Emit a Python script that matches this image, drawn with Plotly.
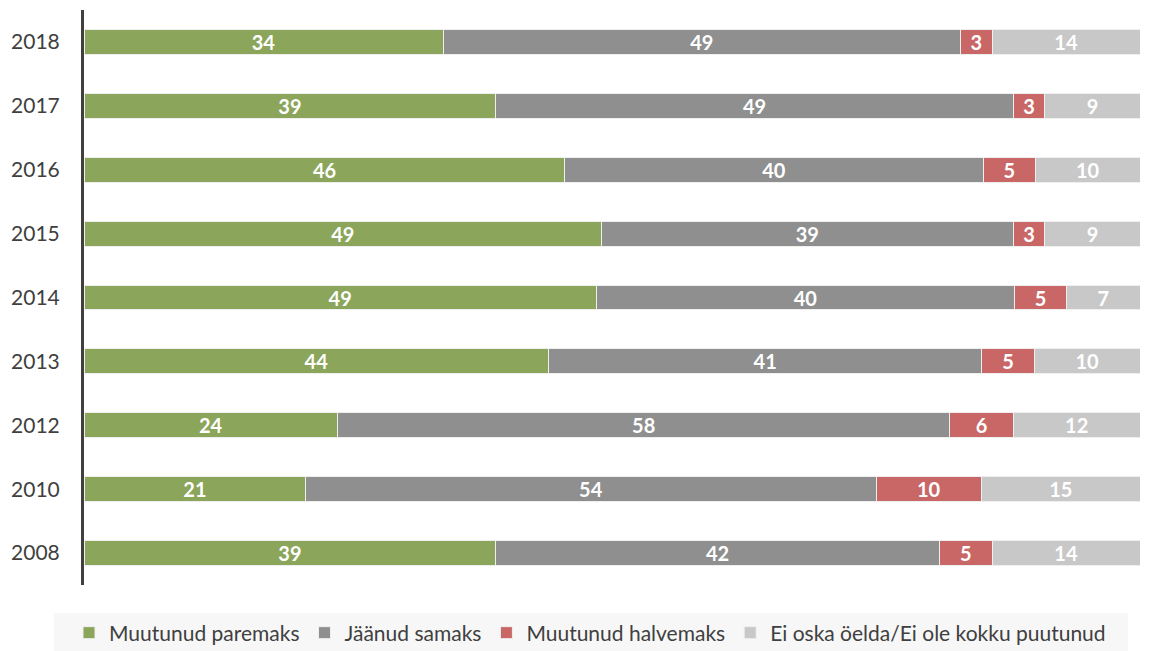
import plotly.graph_objects as go

years = ["2018", "2017", "2016", "2015", "2014", "2013", "2012", "2010", "2008"]
paremaks = [34, 39, 46, 49, 49, 44, 24, 21, 39]
samaks = [49, 49, 40, 39, 40, 41, 58, 54, 42]
halvemaks = [3, 3, 5, 3, 5, 5, 6, 10, 5]
ei_oska = [14, 9, 10, 9, 7, 10, 12, 15, 14]

series = [
    ("Muutunud paremaks", paremaks, "#8BA55A"),
    ("Jäänud samaks", samaks, "#8F8F8F"),
    ("Muutunud halvemaks", halvemaks, "#C96766"),
    ("Ei oska öelda/Ei ole kokku puutunud", ei_oska, "#C8C8C8"),
]

PLOT_H = 575

fig = go.Figure()
for name, vals, col in series:
    fig.add_trace(go.Bar(
        y=years, x=vals, name=name, orientation="h",
        marker=dict(color=col, line=dict(color="#EFEFEF", width=1)),
        text=[str(v) for v in vals], textposition="inside", textangle=0,
        insidetextanchor="middle", constraintext="none",
        textfont=dict(color="white", size=20, family="Lato", weight="bold"),
        hoverinfo="skip",
    ))

fig.update_layout(
    barmode="stack", barnorm="percent", bargap=0.61,
    width=1155, height=651,
    margin=dict(l=84, r=15, t=10, b=66, autoexpand=False),
    plot_bgcolor="white", paper_bgcolor="white",
    font=dict(family="Lato", color="#404040"),
    showlegend=True,
    legend=dict(orientation="h", traceorder="normal",
                x=(590 - 84) / 1056, xanchor="center",
                y=-(633 - 585) / PLOT_H, yanchor="middle",
                font=dict(size=21, color="#404040"), bgcolor="rgba(0,0,0,0)",
                itemwidth=30, tracegroupgap=0),
)
fig.add_shape(type="rect", xref="paper", yref="paper",
              x0=(54 - 84) / 1056, x1=(1128 - 84) / 1056,
              y0=-(651 - 585) / PLOT_H, y1=-(613 - 585) / PLOT_H,
              fillcolor="#F7F7F7", line=dict(width=0), layer="below")
fig.update_xaxes(range=[0, 100], showgrid=False, showticklabels=False, zeroline=False,
                 showline=False, fixedrange=True, automargin=False)
fig.update_yaxes(categoryorder="array", categoryarray=years[::-1],
                 showgrid=False, zeroline=False, showline=True,
                 linecolor="#404040", linewidth=3, ticks="",
                 tickfont=dict(size=21, color="#404040", family="Lato"),
                 ticklabelstandoff=17, automargin=False)

fig.write_html("out.html", config={"displayModeBar": False},
               post_script="document.body.style.margin='0';document.body.style.overflow='hidden';")
